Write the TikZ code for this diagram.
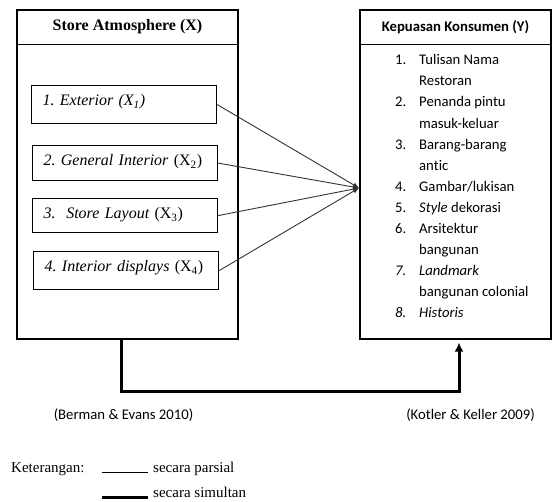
\documentclass[tikz,border=0pt]{standalone}
\usepackage{fontspec}
\setmainfont{Liberation Serif}
\newfontfamily\carlito[Ligatures=NoCommon]{Carlito}
\usetikzlibrary{arrows.meta}
\frenchspacing

\tikzset{
  outerbox/.style={draw, line width=1.2pt, inner sep=0pt},
  factor/.style={draw, line width=1.2pt, anchor=north west, minimum width=185pt,
    text width=163pt, inner xsep=11pt, inner ysep=6pt, align=left, text height=14pt,
    text depth=#1, font=\fontsize{16}{19}\selectfont\itshape},
  parsial/.style={line width=0.9pt, draw=black!80},
  simultan/.style={line width=3pt},
  small/.style={font=\carlito\fontsize{14.7}{18}\selectfont, inner sep=0pt}
}

\begin{document}
\begin{tikzpicture}[x=1pt, y=-1pt]
            \useasboundingbox (0,0) rectangle (552,502);
            % the two variable blocks
            \node[outerbox, minimum width=221pt, minimum height=329pt] (storeatm) at (127.5,174.5) {};
            \node[outerbox, minimum width=191pt, minimum height=329pt] (kepuasan) at (455.5,174.5) {};
            \draw[line width=1.2pt] ([yshift=-35pt]storeatm.north west) -- ([yshift=-35pt]storeatm.north east);
            \draw[line width=1.2pt] ([yshift=-35pt]kepuasan.north west) -- ([yshift=-35pt]kepuasan.north east);
            \node[font=\fontsize{16}{19}\selectfont\bfseries] (xhead) at (127.5,27) {Store Atmosphere (X)};
            \node[font=\carlito\fontsize{14.7}{18}\selectfont\bfseries] (yhead) at (455.5,27) {Kepuasan Konsumen (Y)};
            % indicators of X
            \node[factor=12pt] (ext) at (31,85) {1. Exterior (X\textsubscript{1})};
            \node[factor=9pt] (gen) at (32,145) {2. General Interior \upshape(X\textsubscript{2})};
            \node[factor=8pt] (lay) at (32,198) {3.\ \ Store Layout \upshape(X\textsubscript{3})};
            \node[factor=12pt] (disp) at (33,251) {4. Interior displays \upshape(X\textsubscript{4})};
            % indicators of Y
            \node[small, anchor=base west, align=left,
                  font=\carlito\fontsize{14.7}{21.1}\selectfont] (items) at (395,318) {%
              \makebox[24pt][l]{1.}Tulisan Nama\\
              \hspace*{24pt}Restoran\\
              \makebox[24pt][l]{2.}Penanda pintu\\
              \hspace*{24pt}masuk-keluar\\
              \makebox[24pt][l]{3.}Barang-barang\\
              \hspace*{24pt}antic\\
              \makebox[24pt][l]{4.}Gambar/lukisan\\
              \makebox[24pt][l]{5.}\textit{Style} dekorasi\\
              \makebox[24pt][l]{6.}Arsitektur\\
              \hspace*{24pt}bangunan\\
              \makebox[24pt][l]{\textit{7.}}\textit{Landmark}\\
              \hspace*{24pt}bangunan colonial\\
              \makebox[24pt][l]{\textit{8.}}\textit{Historis}};
            % partial effects
            \coordinate (hub) at (359,188);
            \foreach \f in {ext,gen,lay,disp}
              \draw[parsial, -{Latex[length=6pt,width=5pt]}] (\f.east) -- (hub);
            % simultaneous effect
            \draw[simultan, -{Latex[length=9pt,width=9pt]}, shorten >=3pt]
              ([xshift=-6.5pt]storeatm.south) -- ++(0,52) -| ([xshift=3.5pt]kepuasan.south);
            \node[small] (srcx) at (123.5,415) {(Berman \& Evans 2010)};
            \node[small] (srcy) at (470.5,415) {(Kotler \& Keller 2009)};
            % legend
            \node[anchor=base west, inner sep=0pt, font=\fontsize{15}{18}\selectfont] (ket) at (11,473) {Keterangan:};
            \coordinate (p1) at (102,473);
            \coordinate (p2) at (148,473);
            \coordinate (s1) at (102,498);
            \coordinate (s2) at (148,498);
            \draw[line width=1pt] (p1) -- (p2);
            \draw[simultan] (s1) -- (s2);
            \node[anchor=base west, inner sep=0pt, font=\fontsize{15}{18}\selectfont] (parsial) at (153,473) {secara parsial};
            \node[anchor=base west, inner sep=0pt, font=\fontsize{15}{18}\selectfont] (simultan) at (153,498) {secara simultan};
        \end{tikzpicture}
\end{document}
